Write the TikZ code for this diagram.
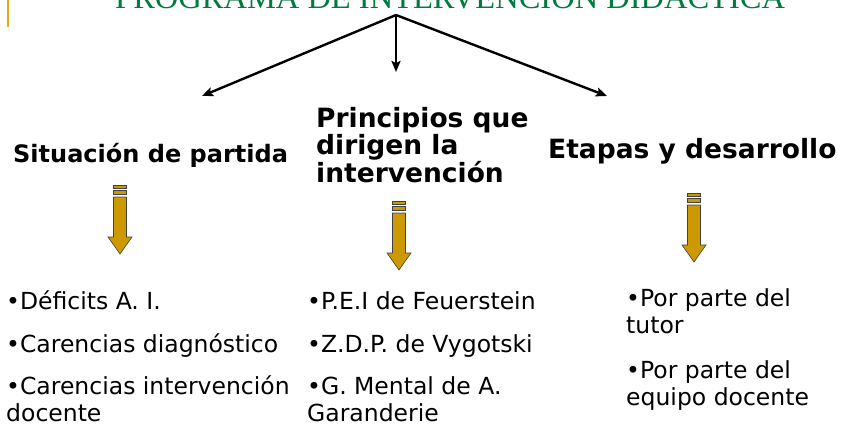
\documentclass[tikz,border=0pt]{standalone}
\usepackage{fontspec}
\setmainfont{DejaVu Sans}
\newfontfamily\titlefont{Liberation Serif}
\usepackage{xcolor}
\usetikzlibrary{arrows.meta, positioning}

\definecolor{titlegreen}{RGB}{0,122,61}
\definecolor{arrowgold}{RGB}{204,153,0}
\definecolor{linegold}{RGB}{230,172,20}

\begin{document}
\begin{tikzpicture}[
    x=1pt, y=-1pt,
    heading/.style={anchor=base west, inner sep=0pt, font=\bfseries\fontsize{24}{26.5}\selectfont, align=left},
    bigheading/.style={heading, font=\bfseries\fontsize{26.5}{26.5}\selectfont},
    item/.style={anchor=base west, inner sep=0pt, font=\fontsize{23.5}{27}\selectfont, align=left},
    arrow/.style={-{Stealth[length=11pt, width=9pt, inset=2pt]}, line width=2.4pt},
    goldarrow/.pic={
        \draw[fill=arrowgold, draw=black!75, line width=0.6pt] (-6.5,0) rectangle (6.5,3);
        \draw[fill=arrowgold, draw=black!75, line width=0.6pt] (-6.5,5) rectangle (6.5,9);
        \draw[fill=arrowgold, draw=black!75, line width=0.6pt]
            (-6.5,12) -- (-6.5,52) -- (-12,52) -- (0,69) -- (12,52) -- (6.5,52) -- (6.5,12) -- cycle;
    }
]
\clip (0,0) rectangle (843,425);

% title, cut at the top of the slide
\node[anchor=base west, inner sep=0pt, text=titlegreen, font=\titlefont\fontsize{32.5}{32.5}\selectfont] (title) at (115,9) {PROGRAMA DE INTERVENCIÓN DIDÁCTICA};
\draw[linegold, line width=1.5pt] (8,0) -- (8,27);

% branches
\coordinate (hub) at (396,15);
\coordinate (toleft) at (202,96);
\coordinate (tomid) at (396,72);
\coordinate (toright) at (607,96);
\draw[arrow] (hub) -- (toleft);
\draw[arrow] (hub) -- (tomid);
\draw[arrow] (hub) -- (toright);

% headings (base = last line)
\node[heading] (partida) at (13,162) {Situación de partida};
\node[bigheading] (principios) at (316,182) {Principios que\\dirigen la\\intervención};
\node[bigheading] (etapas) at (548,158) {Etapas y desarrollo};

% block arrows
\pic at (120,185) {goldarrow};
\pic at (399,201) {goldarrow};
\pic at (694,193) {goldarrow};

% items
\node[item] (deficits) at (6,309) {•Déficits A. I.};
\node[item] (diagnostico) at (6,352) {•Carencias diagnóstico};
\node[item] (docente) at (6,421) {•Carencias intervención\\docente};

\node[item] (pei) at (307,309) {•P.E.I de Feuerstein};
\node[item] (zdp) at (307,352) {•Z.D.P. de Vygotski};
\node[item] (mental) at (307,421) {•G. Mental de A.\\Garanderie};

\node[item] (tutor) at (626,333) {•Por parte del\\tutor};
\node[item] (equipo) at (626,405) {•Por parte del\\equipo docente};

\end{tikzpicture}
\end{document}
